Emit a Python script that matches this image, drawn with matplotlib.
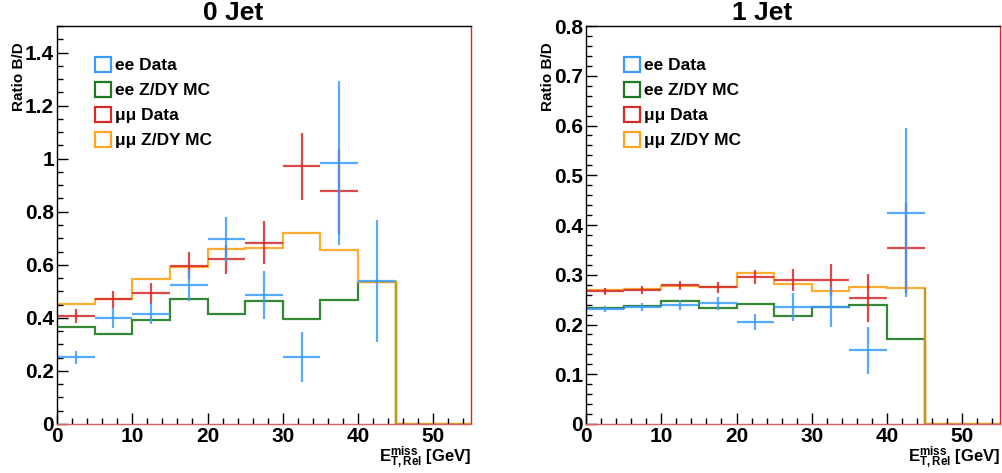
import matplotlib
matplotlib.use("Agg")
import matplotlib.pyplot as plt
import numpy as np
from matplotlib.patches import Patch
from matplotlib.ticker import MultipleLocator

plt.rcParams["font.family"] = ["Liberation Sans", "DejaVu Sans"]
plt.rcParams["font.weight"] = "bold"
plt.rcParams["mathtext.fontset"] = "custom"
plt.rcParams["mathtext.rm"] = "Liberation Sans:bold"
plt.rcParams["mathtext.bf"] = "Liberation Sans:bold"
plt.rcParams["mathtext.it"] = "Liberation Sans:bold"
plt.rcParams["mathtext.default"] = "bf"

# Bins: E_T,Rel^miss, 5 GeV wide, 0..55
edges = np.arange(0, 60, 5)
centers = np.arange(2.5, 45, 5)

# ---- 0 Jet ----
mc_mm_0j = [0.452, 0.472, 0.547, 0.591, 0.658, 0.663, 0.719, 0.657, 0.534, 0.0, 0.0]
mc_ee_0j = [0.367, 0.338, 0.391, 0.473, 0.414, 0.463, 0.394, 0.467, 0.534, 0.0, 0.0]
data_mm_0j = [0.408, 0.471, 0.492, 0.597, 0.620, 0.684, 0.972, 0.877, np.nan]
err_mm_0j = [0.027, 0.032, 0.038, 0.050, 0.055, 0.080, 0.126, 0.160, np.nan]
data_ee_0j = [0.252, 0.400, 0.416, 0.522, 0.696, 0.486, 0.252, 0.983, 0.540]
err_ee_0j = [0.024, 0.037, 0.040, 0.057, 0.085, 0.089, 0.095, 0.310, 0.230]

# ---- 1 Jet ----
mc_mm_1j = [0.269, 0.271, 0.277, 0.276, 0.304, 0.281, 0.267, 0.276, 0.273, 0.0, 0.0]
mc_ee_1j = [0.233, 0.237, 0.247, 0.234, 0.242, 0.218, 0.236, 0.239, 0.170, 0.0, 0.0]
data_mm_1j = [0.267, 0.269, 0.279, 0.275, 0.296, 0.290, 0.289, 0.254, 0.354]
err_mm_1j = [0.007, 0.008, 0.009, 0.011, 0.014, 0.022, 0.032, 0.048, 0.090]
data_ee_1j = [0.232, 0.235, 0.239, 0.243, 0.205, 0.236, 0.235, 0.148, 0.425]
err_ee_1j = [0.006, 0.008, 0.010, 0.013, 0.017, 0.028, 0.040, 0.047, 0.170]

C_EE_DATA = "#3a9cff"
C_EE_MC = "#1e7a1e"
C_MM_DATA = "#d42a2a"
C_MM_MC = "#ffa41c"

labels = ["ee Data", "ee Z/DY MC", "μμ Data", "μμ Z/DY MC"]
colors = [C_EE_DATA, C_EE_MC, C_MM_DATA, C_MM_MC]


def draw_panel(ax, title, ymax, major, minor, mc_ee, mc_mm, d_mm, e_mm, d_ee, e_ee):
    ax.stairs(mc_ee, edges, color=C_EE_MC, lw=1.6, alpha=0.9, baseline=None)
    ax.stairs(mc_mm, edges, color=C_MM_MC, lw=1.6, alpha=0.9, baseline=None)
    # drop of the MC histograms at the last filled bin
    ax.vlines(45, 0, mc_mm[8], color="#c8951a", lw=1.6)
    ax.errorbar(centers, d_mm, xerr=2.5, yerr=e_mm, fmt="none",
                ecolor=C_MM_DATA, elinewidth=1.6, alpha=0.85, capsize=0)
    ax.errorbar(centers, d_ee, xerr=2.5, yerr=e_ee, fmt="none",
                ecolor=C_EE_DATA, elinewidth=1.6, alpha=0.85, capsize=0)

    ax.set_xlim(0, 55)
    ax.set_ylim(0, ymax)
    ax.xaxis.set_major_locator(MultipleLocator(10))
    ax.xaxis.set_minor_locator(MultipleLocator(2))
    ax.yaxis.set_major_locator(MultipleLocator(major))
    ax.yaxis.set_minor_locator(MultipleLocator(minor))
    ax.tick_params(which="both", direction="in", top=False, right=False,
                   labelsize=15, width=1.0)
    ax.tick_params(which="major", length=8, pad=2)
    ax.tick_params(which="minor", length=4)
    ax.yaxis.set_major_formatter(plt.FuncFormatter(lambda v, p: f"{v:g}"))
    for lab in ax.get_xticklabels() + ax.get_yticklabels():
        lab.set_fontweight("bold")

    ax.spines["right"].set_color(C_MM_DATA)
    ax.spines["bottom"].set_color("#e06060")
    for s in ax.spines.values():
        s.set_linewidth(1.0)

    ax.set_title(title, fontsize=19, fontweight="bold", pad=4, x=0.425)
    ax.text(-0.092, 0.96, "Ratio B/D", transform=ax.transAxes, rotation=90,
            ha="center", va="top", fontsize=11, fontweight="bold")
    ax.set_xlabel(r"$E^{miss}_{T,Rel}$ [GeV]", fontsize=12, fontweight="bold", loc="right")
    ax.xaxis.set_label_coords(1.0, -0.052)

    handles = [Patch(facecolor="none", edgecolor=c, lw=1.6) for c in colors]
    ax.legend(handles, labels, loc="upper left", bbox_to_anchor=(0.07, 0.945),
              frameon=False, borderpad=0, handlelength=0.95, handleheight=0.95,
              handletextpad=0.2, labelspacing=0.5,
              prop={"size": 12.5, "weight": "bold"})


fig = plt.figure(figsize=(10.03, 4.73), dpi=100)
ax0 = fig.add_axes([0.0568, 0.1036, 0.4128, 0.8414])
ax1 = fig.add_axes([0.5842, 0.1036, 0.4128, 0.8414])

draw_panel(ax0, "0 Jet", 1.5, 0.2, 0.05, mc_ee_0j, mc_mm_0j,
           data_mm_0j, err_mm_0j, data_ee_0j, err_ee_0j)
draw_panel(ax1, "1 Jet", 0.8, 0.1, 0.02, mc_ee_1j, mc_mm_1j,
           data_mm_1j, err_mm_1j, data_ee_1j, err_ee_1j)

fig.savefig("out.png", dpi=100)
